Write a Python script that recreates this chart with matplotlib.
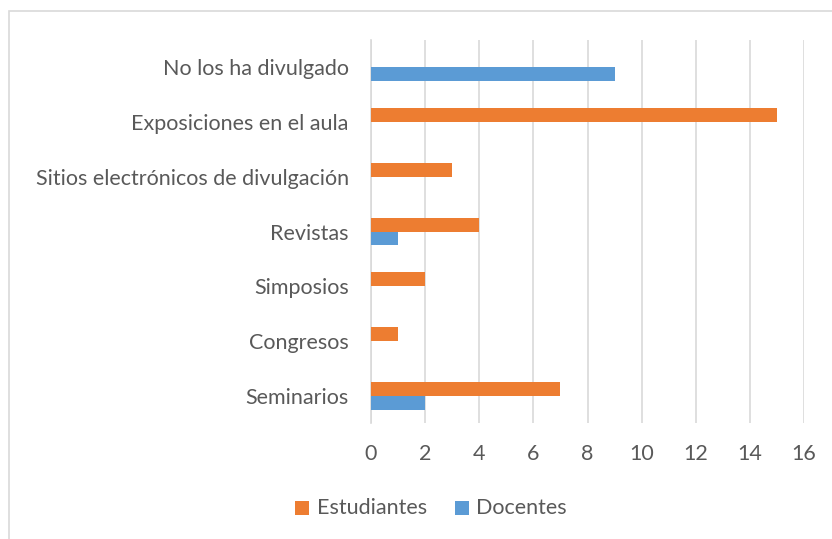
import matplotlib.pyplot as plt
import numpy as np
from matplotlib.patches import Rectangle

plt.rcParams['font.family'] = ['Lato', 'DejaVu Sans']

categorias = ['No los ha divulgado', 'Exposiciones en el aula',
              'Sitios electrónicos de divulgación', 'Revistas',
              'Simposios', 'Congresos', 'Seminarios']
estudiantes = [0, 15, 3, 4, 2, 1, 7]
docentes = [9, 0, 0, 1, 0, 0, 2]
xticks = [0, 2, 4, 6, 8, 10, 12, 14, 16]

naranja = '#ED7D31'
azul = '#5B9BD5'
gris = '#595959'

fig = plt.figure(figsize=(8.32, 5.39), dpi=100)
ax = fig.add_axes([371/832, 1-423/539, (804-371)/832, (423-40)/539])

y = np.arange(len(categorias))
h = 0.255
# estudiantes arriba, docentes abajo
ax.barh(y - h/2, estudiantes, height=h, color=naranja, label='Estudiantes', zorder=3)
ax.barh(y + h/2, docentes, height=h, color=azul, label='Docentes', zorder=3)

ax.set_ylim(len(categorias) - 0.5, -0.5)
ax.set_xlim(0, 16)
ax.set_xticks(xticks)
ax.set_yticks(y)
ax.set_yticklabels(categorias)
ax.tick_params(axis='both', length=0, labelsize=15.5, colors=gris)
ax.tick_params(axis='y', pad=16)
ax.tick_params(axis='x', pad=15)
ax.grid(axis='x', color='#D9D9D9', linewidth=1.2, zorder=0)
for s in ['top', 'right', 'bottom']:
    ax.spines[s].set_visible(False)
ax.spines['left'].set_color('#D9D9D9')
ax.spines['left'].set_linewidth(1.2)

fig.legend(loc='center', bbox_to_anchor=(431/832, 1-508/539), ncol=2, frameon=False,
           fontsize=15.5, labelcolor=gris, handlelength=0.65, handleheight=0.65,
           handletextpad=0.35, columnspacing=1.3)
for hdl in fig.legends[0].legend_handles:
    hdl.set_height(10)
    hdl.set_width(10)
    hdl.set_y(-0.5)

# marco del gráfico
fig.patches.append(Rectangle((9/832, -0.05), 1.0, 1-11/539+0.05, transform=fig.transFigure,
                             fill=False, edgecolor='#D9D9D9', linewidth=1.2))

plt.savefig('out.png', dpi=100)
